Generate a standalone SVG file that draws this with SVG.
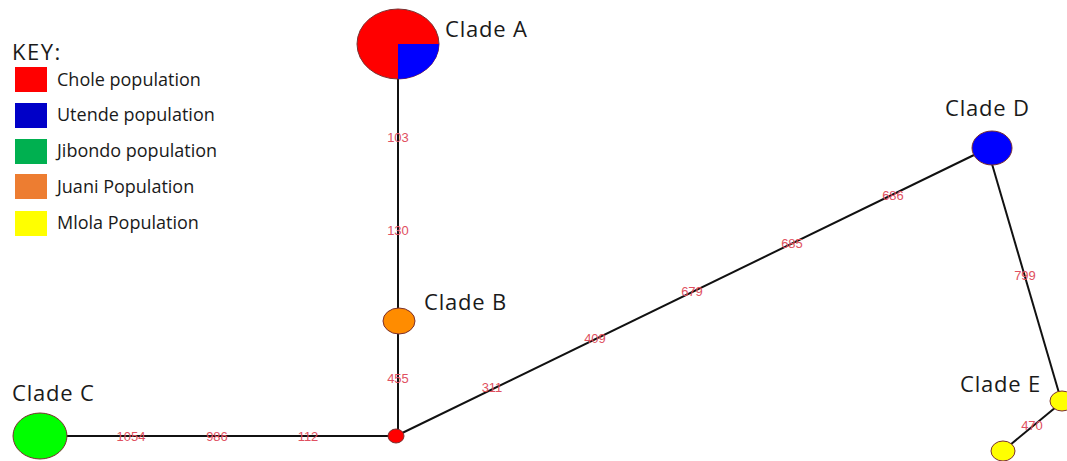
<svg xmlns="http://www.w3.org/2000/svg" width="1067" height="461" viewBox="0 0 1067 461">
<style>
.lbl{font-family:"Open Sans","Liberation Sans",sans-serif;font-size:22px;letter-spacing:0.8px;fill:#1a1a1a}
.key{font-family:"Open Sans","Liberation Sans",sans-serif;font-size:18px;fill:#1a1a1a}
.el{font-family:"Liberation Sans",Arial,sans-serif;font-size:13px;fill:#e05060;text-anchor:middle}
.edge{stroke:#111;stroke-width:2;fill:none}
.node{stroke:#7a3030;stroke-width:1}
</style>
<rect width="1067" height="461" fill="#fff"/>
<g id="legend">
<text class="lbl" x="12" y="60" style="letter-spacing:1.5px">KEY:</text>
<rect x="15" y="67" width="32" height="25" fill="#ff0000"/>
<text class="key" x="57" y="86">Chole population</text>
<rect x="15" y="103" width="32" height="25" fill="#0000c8"/>
<text class="key" x="57" y="121">Utende population</text>
<rect x="15" y="139" width="32" height="25" fill="#00b050"/>
<text class="key" x="57" y="157">Jibondo population</text>
<rect x="15" y="174" width="32" height="25" fill="#ed7d31"/>
<text class="key" x="57" y="193">Juani Population</text>
<rect x="15" y="211" width="32" height="25" fill="#ffff00"/>
<text class="key" x="57" y="229">Mlola Population</text>
</g>
<g id="connectors">
<line class="edge" x1="398" y1="78" x2="398" y2="436"/>
<line class="edge" x1="66" y1="436" x2="396" y2="436"/>
<line class="edge" x1="396" y1="436" x2="974" y2="155"/>
<line class="edge" x1="992" y1="164" x2="1059" y2="393"/>
<line class="edge" x1="1056" y1="407" x2="1010" y2="445"/>
<text class="el" x="398" y="142">103</text>
<text class="el" x="398" y="235">130</text>
<text class="el" x="398" y="383">455</text>
<text class="el" x="492" y="392">311</text>
<text class="el" x="595" y="343">409</text>
<text class="el" x="692" y="296">679</text>
<text class="el" x="792" y="248">685</text>
<text class="el" x="893" y="200">686</text>
<text class="el" x="1025" y="280">799</text>
<text class="el" x="1032" y="430">470</text>
<text class="el" x="131" y="441">1054</text>
<text class="el" x="217" y="441">986</text>
<text class="el" x="308" y="441">112</text>
</g>
<g id="cladeA">
<ellipse class="node" cx="398" cy="44" rx="41" ry="35" fill="#ff0000"/>
<path d="M398 44 H439 A41 35 0 0 1 398 79 Z" fill="#0000ff"/>
<text class="lbl" x="445" y="37">Clade A</text>
</g>
<g id="cladeB">
<ellipse class="node" cx="399" cy="321" rx="16" ry="13" fill="#ff8c00"/>
<text class="lbl" x="424" y="310">Clade B</text>
</g>
<g id="junction">
<ellipse class="node" cx="396" cy="436" rx="8" ry="7" fill="#ff0000"/>
</g>
<g id="cladeC">
<ellipse class="node" cx="40" cy="436" rx="27" ry="23" fill="#00ff00"/>
<text class="lbl" x="12" y="401">Clade C</text>
</g>
<g id="cladeD">
<ellipse class="node" cx="992" cy="148" rx="20" ry="17" fill="#0000ff"/>
<text class="lbl" x="945" y="116">Clade D</text>
</g>
<g id="cladeE">
<ellipse class="node" cx="1062" cy="401" rx="12" ry="10" fill="#ffff00"/>
<ellipse class="node" cx="1003" cy="451" rx="12" ry="10" fill="#ffff00"/>
<text class="lbl" x="960" y="392">Clade E</text>
</g>
</svg>
